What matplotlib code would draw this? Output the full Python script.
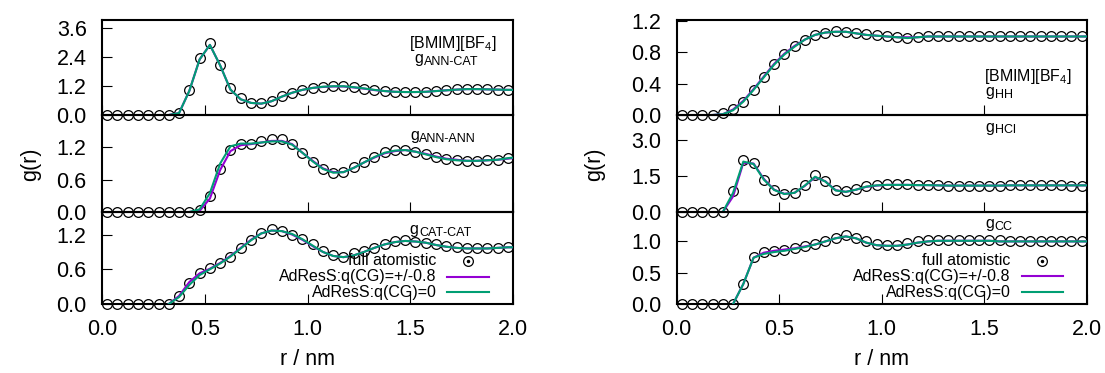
import numpy as np
import matplotlib
matplotlib.use("Agg")
import matplotlib.pyplot as plt

plt.rcParams['font.family'] = ['Liberation Sans', 'DejaVu Sans']

# ---------------- data ----------------
r_atom = np.round(0.025 + 0.05 * np.arange(40), 3)   # radial grid of full atomistic points (nm)

# left column
ann_cat_atom = [0, 0, 0, 0, 0, 0, 0, 0.10, 1.03, 2.34, 2.97, 2.06, 1.10, 0.69, 0.51, 0.48, 0.59, 0.77, 0.92, 1.05,
                1.12, 1.17, 1.20, 1.20, 1.14, 1.09, 1.03, 0.99, 0.95, 0.94, 0.94, 0.95, 0.99, 1.02, 1.06, 1.08,
                1.08, 1.06, 1.05, 1.02]
ann_cat_q08 = [0.00, 0.08, 1.00, 2.30, 2.90, 2.05, 1.05, 0.65, 0.50, 0.47, 0.57, 0.76, 0.92, 1.04, 1.12, 1.16, 1.18,
               1.18, 1.14, 1.09, 1.03, 0.99, 0.96, 0.95, 0.95, 0.96, 0.99, 1.02, 1.05, 1.07, 1.07, 1.06, 1.05, 1.04, 1.04]
ann_cat_q0 = [0.00, 0.08, 1.00, 2.30, 2.90, 2.05, 1.05, 0.65, 0.50, 0.47, 0.57, 0.76, 0.92, 1.04, 1.12, 1.17, 1.19,
              1.19, 1.15, 1.10, 1.04, 0.99, 0.96, 0.95, 0.95, 0.96, 0.99, 1.02, 1.05, 1.07, 1.07, 1.06, 1.05, 1.04, 1.04]

ann_ann_atom = [0, 0, 0, 0, 0, 0, 0, 0, 0, 0.03, 0.29, 0.79, 1.16, 1.26, 1.26, 1.31, 1.36, 1.36, 1.26, 1.10, 0.93,
                0.79, 0.72, 0.75, 0.84, 0.93, 1.03, 1.11, 1.15, 1.15, 1.12, 1.07, 1.02, 0.99, 0.96, 0.95, 0.94,
                0.96, 0.97, 1.01]
ann_ann_q08 = [0.00, 0.02, 0.25, 0.78, 1.13, 1.24, 1.26, 1.29, 1.32, 1.32, 1.26, 1.10, 0.95, 0.81, 0.74, 0.74, 0.82,
               0.92, 1.01, 1.09, 1.13, 1.15, 1.12, 1.08, 1.03, 0.99, 0.97, 0.95, 0.95, 0.96, 0.97, 0.99, 1.00]
ann_ann_q0 = [0.00, 0.05, 0.35, 0.90, 1.22, 1.27, 1.27, 1.29, 1.31, 1.31, 1.25, 1.10, 0.94, 0.80, 0.73, 0.74, 0.82,
              0.92, 1.02, 1.10, 1.14, 1.15, 1.12, 1.07, 1.02, 0.98, 0.96, 0.95, 0.95, 0.96, 0.97, 1.00, 1.01]

cat_cat_atom = [0, 0, 0, 0, 0, 0, 0, 0.13, 0.36, 0.53, 0.63, 0.71, 0.82, 0.97, 1.10, 1.23, 1.29, 1.26, 1.20, 1.13,
                1.03, 0.92, 0.84, 0.82, 0.88, 0.91, 0.97, 1.03, 1.09, 1.10, 1.08, 1.06, 1.03, 1.00, 0.98, 0.96,
                0.96, 0.96, 0.97, 0.98]
cat_cat_q08 = [0.00, 0.14, 0.38, 0.53, 0.61, 0.71, 0.83, 0.97, 1.11, 1.22, 1.27, 1.26, 1.20, 1.11, 1.00, 0.90, 0.83,
               0.81, 0.84, 0.90, 0.97, 1.03, 1.07, 1.09, 1.08, 1.06, 1.02, 0.99, 0.97, 0.96, 0.96, 0.96, 0.97, 0.98, 0.98]
cat_cat_q0 = [0.00, 0.12, 0.33, 0.50, 0.60, 0.70, 0.82, 0.96, 1.10, 1.22, 1.27, 1.26, 1.21, 1.12, 1.01, 0.90, 0.83,
              0.81, 0.84, 0.90, 0.97, 1.03, 1.07, 1.09, 1.08, 1.06, 1.02, 0.99, 0.97, 0.96, 0.96, 0.96, 0.97, 0.98, 0.98]

# right column
hh_atom = [0, 0, 0, 0, 0.03, 0.07, 0.17, 0.32, 0.49, 0.65, 0.78, 0.88, 0.96, 1.02, 1.05, 1.07, 1.06, 1.04, 1.03,
           1.02, 1.01, 0.99, 0.98, 0.99, 1.00, 1.01, 1.01, 1.01, 1.01, 1.01, 1.01, 1.01, 1.01, 1.01, 1.01, 1.01,
           1.01, 1.00, 1.00, 1.00]
hh_q08 = [0.00, 0.01, 0.07, 0.18, 0.33, 0.49, 0.65, 0.78, 0.88, 0.96, 1.02, 1.05, 1.06, 1.06, 1.04, 1.02, 1.01, 1.00,
          0.99, 0.99, 0.99, 1.00, 1.00, 1.00, 1.00, 1.00, 1.00, 1.00, 1.00, 1.00, 1.00, 1.00, 1.00, 1.00, 1.00,
          1.00, 1.00, 1.00]
hh_q0 = [0.00, 0.01, 0.06, 0.17, 0.32, 0.48, 0.64, 0.77, 0.87, 0.96, 1.02, 1.05, 1.06, 1.06, 1.04, 1.02, 1.01, 1.00,
         0.99, 0.98, 0.99, 1.00, 1.00, 1.00, 1.00, 1.00, 1.00, 1.00, 1.00, 1.00, 1.00, 1.00, 1.00, 1.00, 1.00,
         1.00, 1.00, 1.00]

hcl_atom = [0, 0, 0, 0, 0, 0.87, 2.17, 2.04, 1.35, 0.92, 0.76, 0.80, 1.11, 1.53, 1.28, 0.91, 0.87, 0.95, 1.08, 1.12,
            1.15, 1.15, 1.15, 1.13, 1.12, 1.11, 1.09, 1.08, 1.08, 1.08, 1.08, 1.09, 1.11, 1.11, 1.12, 1.12, 1.11,
            1.11, 1.09, 1.08]
hcl_q08 = [0.00, 0.65, 2.05, 2.02, 1.38, 0.93, 0.76, 0.80, 1.09, 1.45, 1.28, 0.91, 0.84, 0.93, 1.05, 1.10, 1.13,
           1.13, 1.13, 1.12, 1.12, 1.11, 1.10, 1.10, 1.10, 1.10, 1.10, 1.10, 1.11, 1.11, 1.11, 1.11, 1.11, 1.11,
           1.11, 1.11, 1.11]
hcl_q0 = [0.00, 0.80, 2.10, 2.00, 1.35, 0.92, 0.75, 0.80, 1.10, 1.47, 1.27, 0.90, 0.84, 0.93, 1.06, 1.11, 1.13,
          1.13, 1.13, 1.12, 1.12, 1.11, 1.10, 1.10, 1.10, 1.10, 1.10, 1.10, 1.11, 1.11, 1.11, 1.11, 1.11, 1.11,
          1.11, 1.11, 1.11]

cc_atom = [0, 0, 0, 0, 0, 0, 0.32, 0.75, 0.83, 0.84, 0.86, 0.89, 0.92, 0.96, 1.01, 1.05, 1.10, 1.06, 1.00, 0.96,
           0.95, 0.95, 0.97, 1.00, 1.02, 1.03, 1.03, 1.03, 1.03, 1.03, 1.02, 1.02, 1.01, 1.01, 1.00, 1.00, 1.00,
           1.00, 1.00, 1.00]
cc_q08 = [0.00, 0.32, 0.74, 0.82, 0.85, 0.87, 0.89, 0.92, 0.95, 1.00, 1.05, 1.08, 1.05, 0.98, 0.94, 0.93, 0.93,
          0.95, 0.98, 1.00, 1.01, 1.01, 1.01, 1.01, 1.01, 1.01, 1.00, 1.00, 1.00, 1.00, 1.00, 1.00, 1.00, 1.00,
          1.00, 1.00]
cc_q0 = [0.00, 0.32, 0.74, 0.80, 0.83, 0.85, 0.88, 0.91, 0.95, 1.00, 1.05, 1.08, 1.05, 0.98, 0.94, 0.93, 0.93,
         0.95, 0.98, 1.00, 1.01, 1.01, 1.01, 1.01, 1.01, 1.01, 1.00, 1.00, 1.00, 1.00, 1.00, 1.00, 1.00, 1.00,
         1.00, 1.00]

legend_labels = ["full atomistic", "AdResS:q(CG)=+/-0.8", "AdResS:q(CG)=0"]
purple = "#9400D3"
green = "#009E73"

# ---------------- figure ----------------
fig = plt.figure(figsize=(11.05, 3.73), dpi=100)

col_left = {"x": 0.0923, "w": 0.372}
col_right = {"x": 0.6124, "w": 0.371}
rows = [(0.6917, 0.2547), (0.4316, 0.2600), (0.1850, 0.2466)]

panels = [
    (col_left, 0, ann_cat_atom, ann_cat_q08, ann_cat_q0, 6, 3.93, [0, 1.2, 2.4, 3.6]),
    (col_left, 1, ann_ann_atom, ann_ann_q08, ann_ann_q0, 8, 1.80, [0, 0.6, 1.2]),
    (col_left, 2, cat_cat_atom, cat_cat_q08, cat_cat_q0, 6, 1.59, [0, 0.6, 1.2]),
    (col_right, 0, hh_atom, hh_q08, hh_q0, 3, 1.21, [0, 0.4, 0.8, 1.2]),
    (col_right, 1, hcl_atom, hcl_q08, hcl_q0, 4, 4.04, [0, 1.5, 3.0]),
    (col_right, 2, cc_atom, cc_q08, cc_q0, 5, 1.47, [0, 0.5, 1.0]),
]

axes = []
for col, row, atom, q08, q0, k0, ytop, yt in panels:
    y0, h = rows[row]
    ax = fig.add_axes([col["x"], y0, col["w"], h])
    ax.patch.set_visible(False)
    r_line = np.append(r_atom[k0:], 2.0)
    ax.plot(r_atom, atom, linestyle='none', marker='o', ms=7, mfc='none', mec='black',
            mew=0.9, clip_on=False, zorder=3)
    ax.plot(r_line, q08, color=purple, lw=1.5, zorder=4)
    ax.plot(r_line, q0, color=green, lw=1.5, zorder=5)
    ax.set_xlim(0, 2.0)
    ax.set_ylim(0, ytop)
    ax.set_xticks([0, 0.5, 1.0, 1.5, 2.0])
    ax.set_yticks(yt)
    ax.set_yticklabels([f"{v:.1f}" for v in yt])
    ax.set_xticklabels([f"{v:.1f}" for v in [0, 0.5, 1.0, 1.5, 2.0]])
    ax.tick_params(direction='in', length=7, width=0.8, top=False, right=False,
                   labelsize=15.5, pad=11, colors='black')
    if row != 2:
        ax.tick_params(labelbottom=False)
    for sp in ax.spines.values():
        sp.set_linewidth(1.5)
    axes.append(ax)


def glabel(ax, x, y, sub):
    t = ax.text(x, y, "g", transform=ax.transAxes, fontsize=11.5,
                ha='left', va='baseline', zorder=6)
    ax.annotate(sub, xy=(1.0, 0.0), xycoords=t, xytext=(0.5, 0.8),
                textcoords='offset points', fontsize=9, ha='left', va='baseline', zorder=6)


def bmim(ax, x, y):
    ax.text(x, y, "[BMIM][BF$_\\mathregular{4}$]", transform=ax.transAxes,
            fontsize=11.5, ha='left', va='baseline', zorder=6)


bmim(axes[0], 0.747, 0.70)
glabel(axes[0], 0.760, 0.544, "ANN\u2010CAT")
glabel(axes[1], 0.749, 0.740, "ANN\u2010ANN")
glabel(axes[2], 0.748, 0.760, "CAT\u2010CAT")
bmim(axes[3], 0.749, 0.36)
glabel(axes[3], 0.754, 0.20, "HH")
glabel(axes[4], 0.752, 0.83, "HCl")
glabel(axes[5], 0.752, 0.83, "CC")


# gnuplot-style key: right-aligned labels followed by the sample
def key(ax, x_text, x_l0, x_l1, base_y, mid_y):
    tr = ax.transAxes
    for lab, by in zip(legend_labels, base_y):
        ax.text(x_text, by, lab, transform=tr, ha='right', va='baseline', fontsize=11.5, zorder=7)
    xm = 0.5 * (x_l0 + x_l1)
    ax.plot([xm], [mid_y[0]], transform=tr, linestyle='none', marker='o', ms=7, mfc='none',
            mec='black', mew=0.9, clip_on=False, zorder=7)
    ax.plot([xm], [mid_y[0]], transform=tr, linestyle='none', marker='o', ms=1.5,
            color='black', clip_on=False, zorder=7)
    ax.plot([x_l0, x_l1], [mid_y[1], mid_y[1]], transform=tr, color=purple, lw=1.5,
            clip_on=False, zorder=7)
    ax.plot([x_l0, x_l1], [mid_y[2], mid_y[2]], transform=tr, color=green, lw=1.5,
            clip_on=False, zorder=7)


key(axes[2], 0.814, 0.839, 0.942, [0.424, 0.250, 0.079], [0.467, 0.297, 0.127])
key(axes[5], 0.815, 0.842, 0.942, [0.420, 0.250, 0.080], [0.464, 0.300, 0.130])

# axis labels
fig.text(0.028, 0.56, "g(r)", rotation=90, ha='center', va='center', fontsize=15.5)
fig.text(0.538, 0.56, "g(r)", rotation=90, ha='center', va='center', fontsize=15.5)
fig.text(0.278, 0.035, "r / nm", ha='center', va='center', fontsize=15.5)
fig.text(0.798, 0.035, "r / nm", ha='center', va='center', fontsize=15.5)

fig.savefig("out.png", dpi=100)
